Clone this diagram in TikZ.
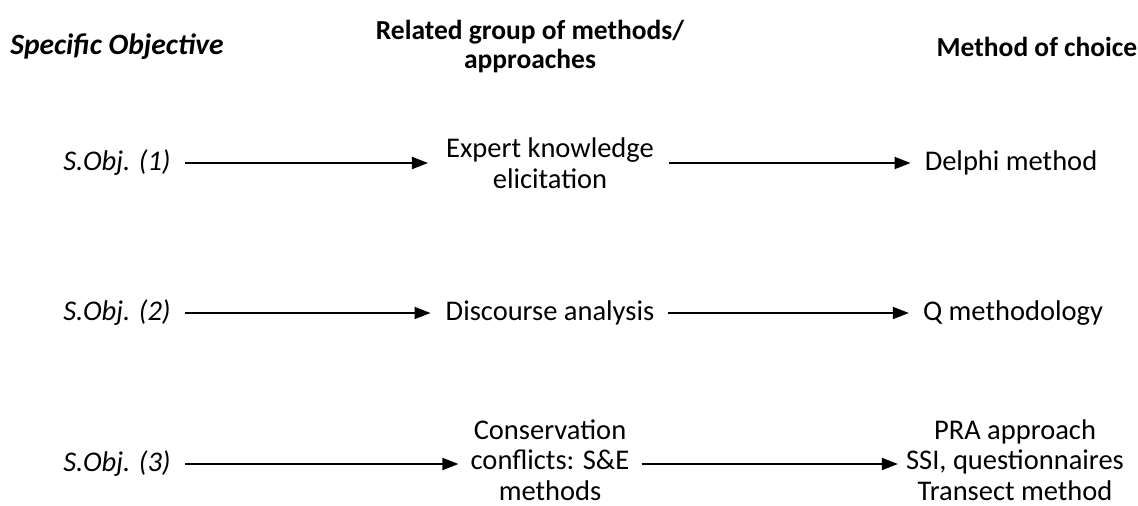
\documentclass[tikz,border=0pt]{standalone}
\usepackage{fontspec}
\setmainfont{Carlito}
\usetikzlibrary{arrows.meta}
\begin{document}
\begin{tikzpicture}[x=1pt,y=-1pt,
  txt/.style={inner sep=0pt,align=center,font=\fontsize{28.5}{31}\selectfont},
  head/.style={inner sep=0pt,align=center,font=\fontsize{27.5}{29}\selectfont\bfseries},
  obj/.style={inner sep=0pt,align=center,font=\fontsize{28.5}{31}\selectfont\itshape},
  arr/.style={line width=1.8pt,-{Triangle[length=16pt,width=12pt]}}]
\useasboundingbox (0,0) rectangle (1138,506);
% column headings
\node[head,font=\fontsize{29.5}{29}\selectfont\bfseries\itshape] (h1) at (117,47) {Specific Objective};
\node[head] (h2) at (530,47) {Related group of methods/\\approaches};
\node[head] (h3) at (1037,47) {Method of choice};
% objectives
\node[obj] (s1) at (117,163) {S.Obj. (1)};
\node[obj] (s2) at (117,313) {S.Obj. (2)};
\node[obj] (s3) at (117,464) {S.Obj. (3)};
% method groups
\node[txt] (g1) at (550,163) {Expert knowledge\\elicitation};
\node[txt] (g2) at (550,313) {Discourse analysis};
\node[txt,font=\fontsize{28.5}{30.5}\selectfont] (g3) at (550,460) {Conservation\\conflicts: S\&E\\methods};
% chosen methods
\node[txt] (c1) at (1011,163) {Delphi method};
\node[txt] (c2) at (1013,313) {Q methodology};
\node[txt,font=\fontsize{28.5}{30.5}\selectfont] (c3) at (1015,460) {PRA approach\\SSI, questionnaires\\Transect method};
% connectors
\draw[arr] ([xshift=14pt]s1.east) -- ([xshift=-18pt]g1.west);
\draw[arr] ([xshift=14pt]s2.east) -- ([xshift=-15pt]g2.west);
\draw[arr] ([xshift=14pt]s3.east) -- ([xshift=-12pt]g3.west |- s3.east);
\draw[arr] ([xshift=15pt]g1.east) -- ([xshift=-14pt]c1.west);
\draw[arr] ([xshift=14pt]g2.east) -- ([xshift=-14pt]c2.west);
\draw[arr] ([xshift=12pt]g3.east |- s3.east) -- ([xshift=-8pt]c3.west |- s3.east);
\end{tikzpicture}
\end{document}
